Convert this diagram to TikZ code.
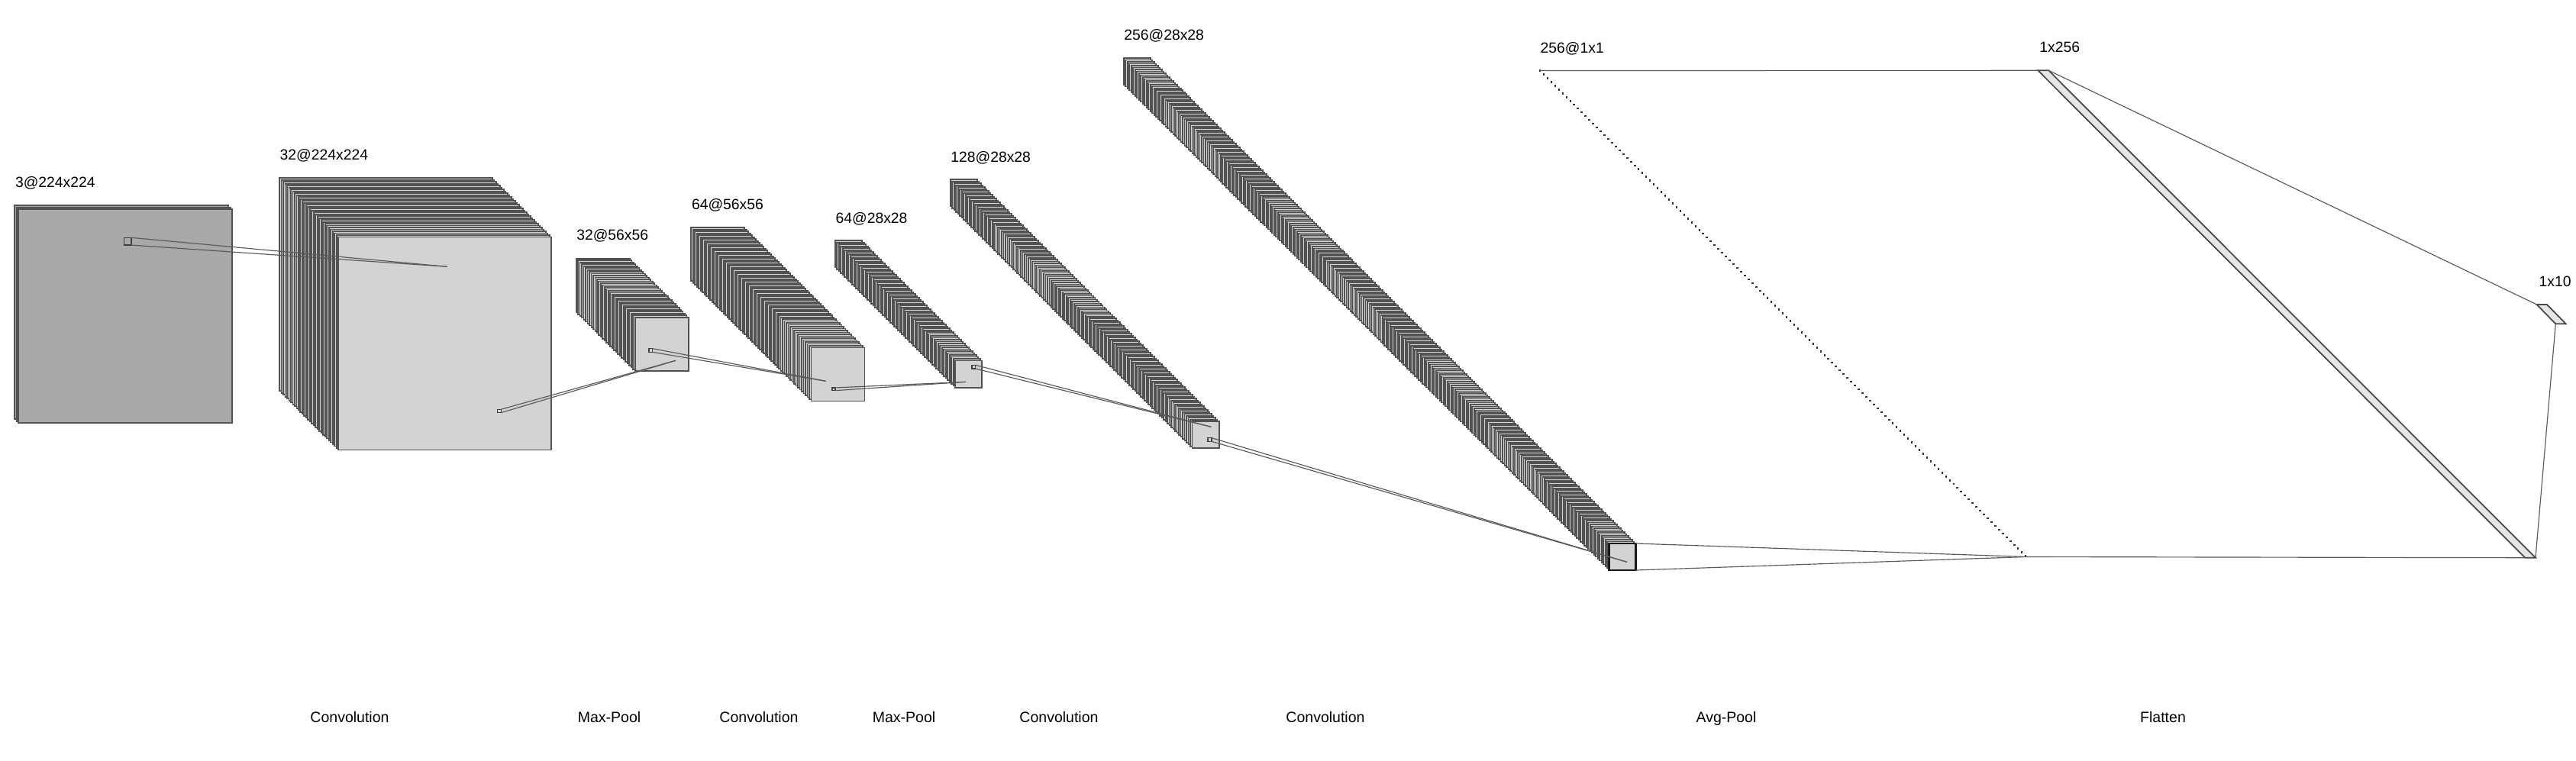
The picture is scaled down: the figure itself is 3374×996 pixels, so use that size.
\documentclass[tikz,border=0pt]{standalone}
\usepackage{fontspec}
\setmainfont{Liberation Sans}
\usepackage{xcolor}
\definecolor{mapfill}{HTML}{D3D3D3}
\definecolor{inputfill}{HTML}{A9A9A9}
\definecolor{flatfill}{HTML}{E6E6E6}
\tikzset{
  maprect/.style={draw=black!68, line width=0.52pt, fill=mapfill},
  inputrect/.style={draw=black!68, line width=0.52pt, fill=inputfill},
  flatrect/.style={draw=black!72, line width=0.5pt, fill=flatfill},
  kernelbox/.style={draw=black!75, line width=0.4pt, inner sep=0pt, outer sep=0pt},
  link/.style={draw=black!65, line width=0.33pt},
  dimlabel/.style={anchor=base west, inner sep=0pt, font=\fontsize{5.5pt}{6pt}\selectfont},
  oplabel/.style={anchor=base, inner sep=0pt, font=\fontsize{5.55pt}{6pt}\selectfont}
}
% back corner x, y, side, offset to the front, number of steps, style
\newcommand{\mapstack}[6]{
  \foreach \k in {0,...,#5} {
    \draw[#6] ({#1+\k*(#4/#5)},{#2+\k*(#4/#5)}) rectangle +(#3,#3);
  }
}
\begin{document}
\begin{tikzpicture}[x=0.01cm,y=-0.01cm]
\useasboundingbox (0,0) rectangle (3374,996);

% Feature maps
\mapstack{19.4}{269.3}{280}{4.9}{2}{inputrect}
\mapstack{366}{233.3}{279}{77.2}{31}{maprect}
\mapstack{754.6}{338.7}{70.4}{77}{31}{maprect}
\mapstack{905.3}{298.3}{70}{157.2}{63}{maprect}
\mapstack{1093.9}{315.3}{35.2}{157.2}{63}{maprect}
\mapstack{1244.7}{235.3}{35.2}{316.8}{127}{maprect}
\mapstack{1471.7}{76}{35}{636}{255}{maprect}
\draw[maprect, line width=0.75pt, draw=black!90] (2107.7,712) rectangle (2142.7,747);

% Avg-pool layer seen edge on
\foreach \k in {0,...,128} {
  \fill[black!80] ({2017+\k*4.97-1.25},{92.5+\k*4.97-1.25}) rectangle +(2.5,2.5);
}

% Flat layers
\draw[flatrect] (2669.3,92.3) -- (2683.3,92.3) -- (3321,730.7) -- (3307.3,730.7) -- cycle;
\draw[flatrect] (3322.7,399) -- (3336,399) -- (3360.7,424.3) -- (3347.3,424.3) -- cycle;

% Kernel boxes
\node[kernelbox, minimum width=0.097cm, minimum height=0.097cm] (kernelA) at (167.2,316.2) {};
\node[kernelbox, minimum width=0.048cm, minimum height=0.044cm] (kernelB) at (653.9,538.5) {};
\node[kernelbox, minimum width=0.047cm, minimum height=0.046cm] (kernelC) at (852.3,459) {};
\node[kernelbox, minimum width=0.039cm, minimum height=0.037cm] (kernelD) at (1092,509.8) {};
\node[kernelbox, minimum width=0.047cm, minimum height=0.047cm] (kernelE) at (1275.3,480.6) {};
\node[kernelbox, minimum width=0.05cm, minimum height=0.046cm] (kernelF) at (1584.5,576) {};

% Connector ends
\coordinate (hitA) at (585.6,349.3);
\coordinate (hitB) at (885,472.3);
\coordinate (hitC) at (1081.6,499.3);
\coordinate (hitD) at (1265,500.3);
\coordinate (hitE) at (1586.3,559.3);
\coordinate (hitF) at (2130.9,736.3);
\coordinate (frontT) at (2142.7,712);
\coordinate (frontB) at (2142.7,747);
\coordinate (poolTip) at (2654,729.5);
\coordinate (poolBack) at (2017,92.5);
\coordinate (flatTL) at (2669.3,92.3);
\coordinate (flatTR) at (2683.3,92.3);
\coordinate (flatBL) at (3307.3,730.7);
\coordinate (flatBR) at (3321,730.7);
\coordinate (outTL) at (3322.7,399);
\coordinate (outBL) at (3347.3,424.3);

% Connectors
\draw[link] (kernelA.north east) -- (hitA);
\draw[link] (kernelA.south east) -- (hitA);
\draw[link] (kernelB.north east) -- (hitB);
\draw[link] (kernelB.south east) -- (hitB);
\draw[link] (kernelC.north east) -- (hitC);
\draw[link] (kernelC.south east) -- (hitC);
\draw[link] (kernelD.north east) -- (hitD);
\draw[link] (kernelD.south east) -- (hitD);
\draw[link] (kernelE.north east) -- (hitE);
\draw[link] (kernelE.south east) -- (hitE);
\draw[link] (kernelF.north east) -- (hitF);
\draw[link] (kernelF.south east) -- (hitF);
\draw[link] (frontT) -- (poolTip);
\draw[link] (frontB) -- (poolTip);
\draw[link] (poolBack) -- (flatTL);
\draw[link] (poolTip) -- (flatBL);
\draw[link] (flatTR) -- (outTL);
\draw[link] (flatBR) -- (outBL);

% Sizes above the layers
\node[dimlabel] (dimA) at (19.4,245.7) {3@224x224};
\node[dimlabel] (dimB) at (366,209) {32@224x224};
\node[dimlabel] (dimC) at (754.6,314) {32@56x56};
\node[dimlabel] (dimD) at (905.3,274) {64@56x56};
\node[dimlabel] (dimE) at (1093.9,292) {64@28x28};
\node[dimlabel] (dimF) at (1244.7,212) {128@28x28};
\node[dimlabel] (dimG) at (1471.7,52.7) {256@28x28};
\node[dimlabel] (dimH) at (2017,69) {256@1x1};
\node[dimlabel] (dimI) at (2670.7,68) {1x256};
\node[dimlabel] (dimJ) at (3325,375) {1x10};

% Operations along the bottom
\node[oplabel] (opA) at (458,946.5) {Convolution};
\node[oplabel] (opB) at (798,946.5) {Max-Pool};
\node[oplabel] (opC) at (994,946.5) {Convolution};
\node[oplabel] (opD) at (1184,946.5) {Max-Pool};
\node[oplabel] (opE) at (1387,946.5) {Convolution};
\node[oplabel] (opF) at (1736,946.5) {Convolution};
\node[oplabel] (opG) at (2261,946.5) {Avg-Pool};
\node[oplabel] (opH) at (2833,946.5) {Flatten};
\end{tikzpicture}
\end{document}
